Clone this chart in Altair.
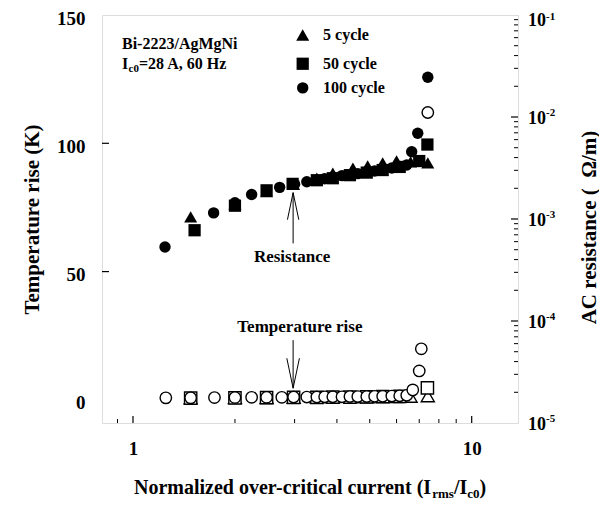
import altair as alt
import pandas as pd

FONT = "Liberation Serif"
W, H = 416, 408

series = ["5 cycle", "50 cycle", "100 cycle"]
shapes = ["triangle-up", "square", "circle"]
sizes = [170, 130, 180]

# AC resistance (ohm/m), filled markers, right axis
res5_x = [1.48, 2.0, 2.48, 2.98, 3.49, 3.89, 4.46, 4.93, 5.46, 6.0, 6.6, 7.42]
res5_y = [1.05e-3, 1.41e-3, 1.86e-3, 2.19e-3, 2.51e-3, 2.82e-3, 3.16e-3, 3.31e-3, 3.55e-3, 3.72e-3, 3.63e-3, 3.55e-3]
res50_x = [1.52, 2.0, 2.48, 2.96, 3.49, 3.89, 4.37, 4.90, 5.46, 6.13, 7.0, 7.4]
res50_y = [7.76e-4, 1.35e-3, 1.91e-3, 2.21e-3, 2.40e-3, 2.51e-3, 2.69e-3, 2.85e-3, 3.02e-3, 3.24e-3, 3.7e-3, 5.37e-3]
res100_x = [1.243, 1.73, 2.0, 2.24, 2.71, 3.0, 3.26, 3.49, 3.68, 3.89, 4.14, 4.37, 4.61, 4.90,
            5.17, 5.46, 5.81, 6.13, 6.43, 6.65, 6.93, 7.42]
res100_y = [5.31e-4, 1.148e-3, 1.445e-3, 1.738e-3, 2.042e-3, 2.188e-3, 2.317e-3, 2.399e-3, 2.483e-3,
            2.570e-3, 2.661e-3, 2.723e-3, 2.786e-3, 2.884e-3, 2.951e-3, 3.055e-3, 3.162e-3, 3.236e-3,
            3.388e-3, 4.571e-3, 6.918e-3, 2.455e-2]

# Temperature rise (K), open markers, left axis
tmp5_x = [1.48, 2.0, 2.48, 2.98, 3.49, 3.89, 4.46, 4.93, 5.46, 6.0, 6.6, 7.42]
tmp5_y = [0.7, 0.8, 0.8, 0.9, 1.0, 1.0, 1.1, 1.1, 1.2, 1.2, 1.3, 1.5]
tmp50_x = [1.48, 2.0, 2.48, 2.98, 3.49, 3.89, 4.37, 4.90, 5.46, 6.13, 7.4]
tmp50_y = [0.7, 0.8, 0.9, 1.0, 1.0, 1.1, 1.1, 1.2, 1.3, 1.4, 4.7]
tmp100_x = [1.25, 1.48, 1.74, 2.0, 2.24, 2.48, 2.75, 2.98, 3.26, 3.49, 3.68, 3.89, 4.14, 4.37,
            4.61, 4.90, 5.17, 5.46, 5.81, 6.13, 6.43, 6.7, 7.0, 7.1, 7.42]
tmp100_y = [0.8, 0.8, 0.9, 0.9, 1.0, 1.0, 1.0, 1.1, 1.1, 1.1, 1.2, 1.2, 1.2, 1.3, 1.3, 1.3, 1.4,
            1.4, 1.5, 1.6, 1.8, 3.9, 11.3, 19.9, 112.0]

# axis tick values
x_major = [1, 10]
x_minor = [0.9, 2, 3, 4, 5, 6, 7, 8, 9]
yl_major = [0, 50, 100, 150]
yr_major = [1e-5, 1e-4, 1e-3, 1e-2, 1e-1]
yr_exp = ["-5", "-4", "-3", "-2", "-1"]
yr_minor = [m * d for d in [1e-5, 1e-4, 1e-3, 1e-2] for m in [2, 3, 4, 5, 6, 7, 8, 9]]

# annotations (data coordinates: x, temperature)
legend_x, legend_tx = 3.17, 3.64
legend_T = [142.2, 131.0, 121.6]
info_x = 0.928
info_T = [138.7, 130.95]
arrow_x = 2.97
res_arrow_T = [80.8, 61.0, 75.5]     # tip, tail, head centre
tmp_arrow_T = [23.3, 4.6, 10.4]      # tail, tip, head centre
res_label = (2.95, 55.5)
tmp_label = (3.11, 28.3)


def df(xs, ys, name, col):
    return pd.DataFrame({"x": xs, col: ys, "series": name})


res = pd.concat([df(res5_x, res5_y, series[0], "R"), df(res50_x, res50_y, series[1], "R"),
                 df(res100_x, res100_y, series[2], "R")])
tmp_tri = df(tmp5_x, tmp5_y, series[0], "T")
tmp_sq = df(tmp50_x, tmp50_y, series[1], "T")
tmp_ci = df(tmp100_x, tmp100_y, series[2], "T")

xs = alt.Scale(type="log", domain=[0.81, 13.7], nice=False)
yl = alt.Scale(domain=[-9, 150], nice=False, zero=False)
yr = alt.Scale(type="log", domain=[1e-5, 1e-1], nice=False)
shape_sc = alt.Scale(domain=series, range=shapes)
size_sc = alt.Scale(domain=series, range=sizes)

lab = dict(labelFont=FONT, labelFontWeight="bold", labelFontSize=19, labelColor="black",
           titleFont=FONT, titleFontWeight="bold", titleFontSize=21, titleColor="black",
           ticks=False, tickSize=0, domain=False, grid=False)

X = alt.X("x:Q", scale=xs, axis=alt.Axis(values=x_major, format="d", title=None, labelPadding=16, **lab))
YL = alt.Y("T:Q", scale=yl, axis=alt.Axis(values=yl_major, title="Temperature rise (K)", orient="left",
                                           labelPadding=17, labelOffset=3, titlePadding=14, **lab))
YR = alt.Y("R:Q", scale=yr, axis=alt.Axis(values=yr_major, labels=False, orient="right",
                                           title="AC resistance (\u00a0\u00a0\u03a9/m)", titleAngle=270,
                                           titleBaseline="top", titlePadding=60, titleY=212, **lab))
SH = alt.Shape("series:N", scale=shape_sc, legend=None)
SZ = alt.Size("series:N", scale=size_sc, legend=None)

# ---------- resistance group (right axis) ----------
res_pts = alt.Chart(res).mark_point(filled=True, color="black", opacity=1).encode(x=X, y=YR, shape=SH, size=SZ)
rmaj = alt.Chart(pd.DataFrame({"R": yr_major[1:-1]})).mark_rule(color="black", strokeWidth=1.2).encode(
    y=YR, x=alt.value(W), x2=alt.value(W - 7))
rmin = alt.Chart(pd.DataFrame({"R": yr_minor})).mark_rule(color="black", strokeWidth=1).encode(
    y=YR, x=alt.value(W), x2=alt.value(W - 4))
rlab_df = pd.DataFrame({"R": yr_major, "t": ["10"] * 5, "e": yr_exp})
rl_kw = dict(font=FONT, fontWeight="bold", align="left", baseline="middle", color="black")
rlab_lo = alt.Chart(rlab_df.iloc[:-1]).mark_text(fontSize=18, dy=2, **rl_kw).encode(
    y=YR, text="t:N", x=alt.value(W + 10))
rexp_lo = alt.Chart(rlab_df.iloc[:-1]).mark_text(fontSize=11, dy=-4, **rl_kw).encode(
    y=YR, text="e:N", x=alt.value(W + 28))
rlab_top = alt.Chart(rlab_df.iloc[-1:]).mark_text(fontSize=18, dy=6, **rl_kw).encode(
    y=YR, text="t:N", x=alt.value(W + 10))
rexp_top = alt.Chart(rlab_df.iloc[-1:]).mark_text(fontSize=11, dy=2, **rl_kw).encode(
    y=YR, text="e:N", x=alt.value(W + 28))
res_group = alt.layer(res_pts, rmaj, rmin, rlab_lo, rexp_lo, rlab_top, rexp_top)

# ---------- temperature group (left axis) ----------
open_kw = dict(filled=True, fill="white", stroke="black", strokeWidth=1.4, opacity=1, fillOpacity=1)
t_tri = alt.Chart(tmp_tri).mark_point(**open_kw).encode(x=X, y=YL, shape=SH, size=SZ)
t_sq = alt.Chart(tmp_sq).mark_point(**open_kw).encode(x=X, y=YL, shape=SH, size=SZ)
t_ci = alt.Chart(tmp_ci).mark_point(**open_kw).encode(x=X, y=YL, shape=SH, size=SZ)

lmaj = alt.Chart(pd.DataFrame({"T": yl_major[1:-1]})).mark_rule(color="black", strokeWidth=1.2).encode(
    y=YL, x=alt.value(0), x2=alt.value(7))
xmaj = alt.Chart(pd.DataFrame({"x": x_major})).mark_rule(color="black", strokeWidth=1.2).encode(
    x=X, y=alt.value(H), y2=alt.value(H - 7))
xmin = alt.Chart(pd.DataFrame({"x": x_minor})).mark_rule(color="black", strokeWidth=1).encode(
    x=X, y=alt.value(H), y2=alt.value(H - 4))

leg_df = pd.DataFrame({"x": [legend_x] * 3, "T": legend_T, "series": series})
leg_pts = alt.Chart(leg_df).mark_point(filled=True, color="black", opacity=1).encode(x=X, y=YL, shape=SH, size=SZ)
leg_txt = alt.Chart(leg_df.assign(x=legend_tx)).mark_text(
    font=FONT, fontWeight="bold", fontSize=16, align="left", baseline="middle", color="black").encode(
    x=X, y=YL, text="series:N")

txt_kw = dict(font=FONT, fontWeight="bold", color="black", baseline="middle", align="left")
info1 = alt.Chart(pd.DataFrame({"x": [info_x], "T": [info_T[0]], "t": ["Bi-2223/AgMgNi"]})).mark_text(
    fontSize=16, **txt_kw).encode(x=X, y=YL, text="t:N")
info_df = pd.DataFrame({"x": [info_x], "T": [info_T[1]], "a": ["I"], "b": ["c0"], "c": ["=28 A, 60 Hz"]})
info2a = alt.Chart(info_df).mark_text(fontSize=16, **txt_kw).encode(x=X, y=YL, text="a:N")
info2b = alt.Chart(info_df).mark_text(fontSize=11, dx=6.5, dy=5, **txt_kw).encode(x=X, y=YL, text="b:N")
info2c = alt.Chart(info_df).mark_text(fontSize=16, dx=17, **txt_kw).encode(x=X, y=YL, text="c:N")

arr_df = pd.DataFrame({"x": [arrow_x, arrow_x], "T": [res_arrow_T[0], tmp_arrow_T[0]],
                       "T2": [res_arrow_T[1], tmp_arrow_T[1]]})
shafts = alt.Chart(arr_df).mark_rule(color="black", strokeWidth=1).encode(x=X, y=YL, y2="T2:Q")
head_up = alt.Chart(pd.DataFrame({"x": [arrow_x], "T": [res_arrow_T[2]]})).mark_point(
    shape="M-0.42,1 L0,-1 L0.42,1", filled=False, stroke="black", strokeWidth=1, size=729, opacity=1).encode(x=X, y=YL)
head_dn = alt.Chart(pd.DataFrame({"x": [arrow_x], "T": [tmp_arrow_T[2]]})).mark_point(
    shape="M-0.42,-1 L0,1 L0.42,-1", filled=False, stroke="black", strokeWidth=1, size=900, opacity=1).encode(x=X, y=YL)
lbl_df = pd.DataFrame({"x": [res_label[0], tmp_label[0]], "T": [res_label[1], tmp_label[1]],
                       "t": ["Resistance", "Temperature rise"]})
lbls = alt.Chart(lbl_df).mark_text(font=FONT, fontWeight="bold", fontSize=17, color="black",
                                   align="center", baseline="middle").encode(x=X, y=YL, text="t:N")

# x-axis title with subscripts
xt_parts = ["Normalized over-critical current (I", "rms", "/I", "c0", ")"]
xt_sizes = [20, 13, 20, 13, 20]
xt_dx = [0, 298.2, 319.9, 333.2, 345.5]
xt_start = 32
xt_layers = []
for part, fs, dx in zip(xt_parts, xt_sizes, xt_dx):
    sub = fs < 20
    xt_layers.append(
        alt.Chart(pd.DataFrame({"t": [part]})).mark_text(
            font=FONT, fontWeight="bold", fontSize=fs, color="black", align="left",
            baseline="alphabetic").encode(
            text="t:N", x=alt.value(xt_start + dx), y=alt.value(H + 71 + (4 if sub else 0))))

temp_group = alt.layer(lmaj, xmaj, xmin, t_tri, t_sq, t_ci, leg_pts, leg_txt, info1, info2a, info2b,
                       info2c, shafts, head_up, head_dn, lbls, *xt_layers)

chart = alt.layer(res_group, temp_group).resolve_scale(y="independent").properties(
    width=W, height=H,
    autosize=alt.AutoSizeParams(type="none"),
    padding={"left": 94, "top": 7, "right": 81, "bottom": 78},
).configure_view(stroke="black", strokeWidth=2).configure(background="white")

chart.save("out.html", embed_options={"renderer": "svg", "actions": False})
